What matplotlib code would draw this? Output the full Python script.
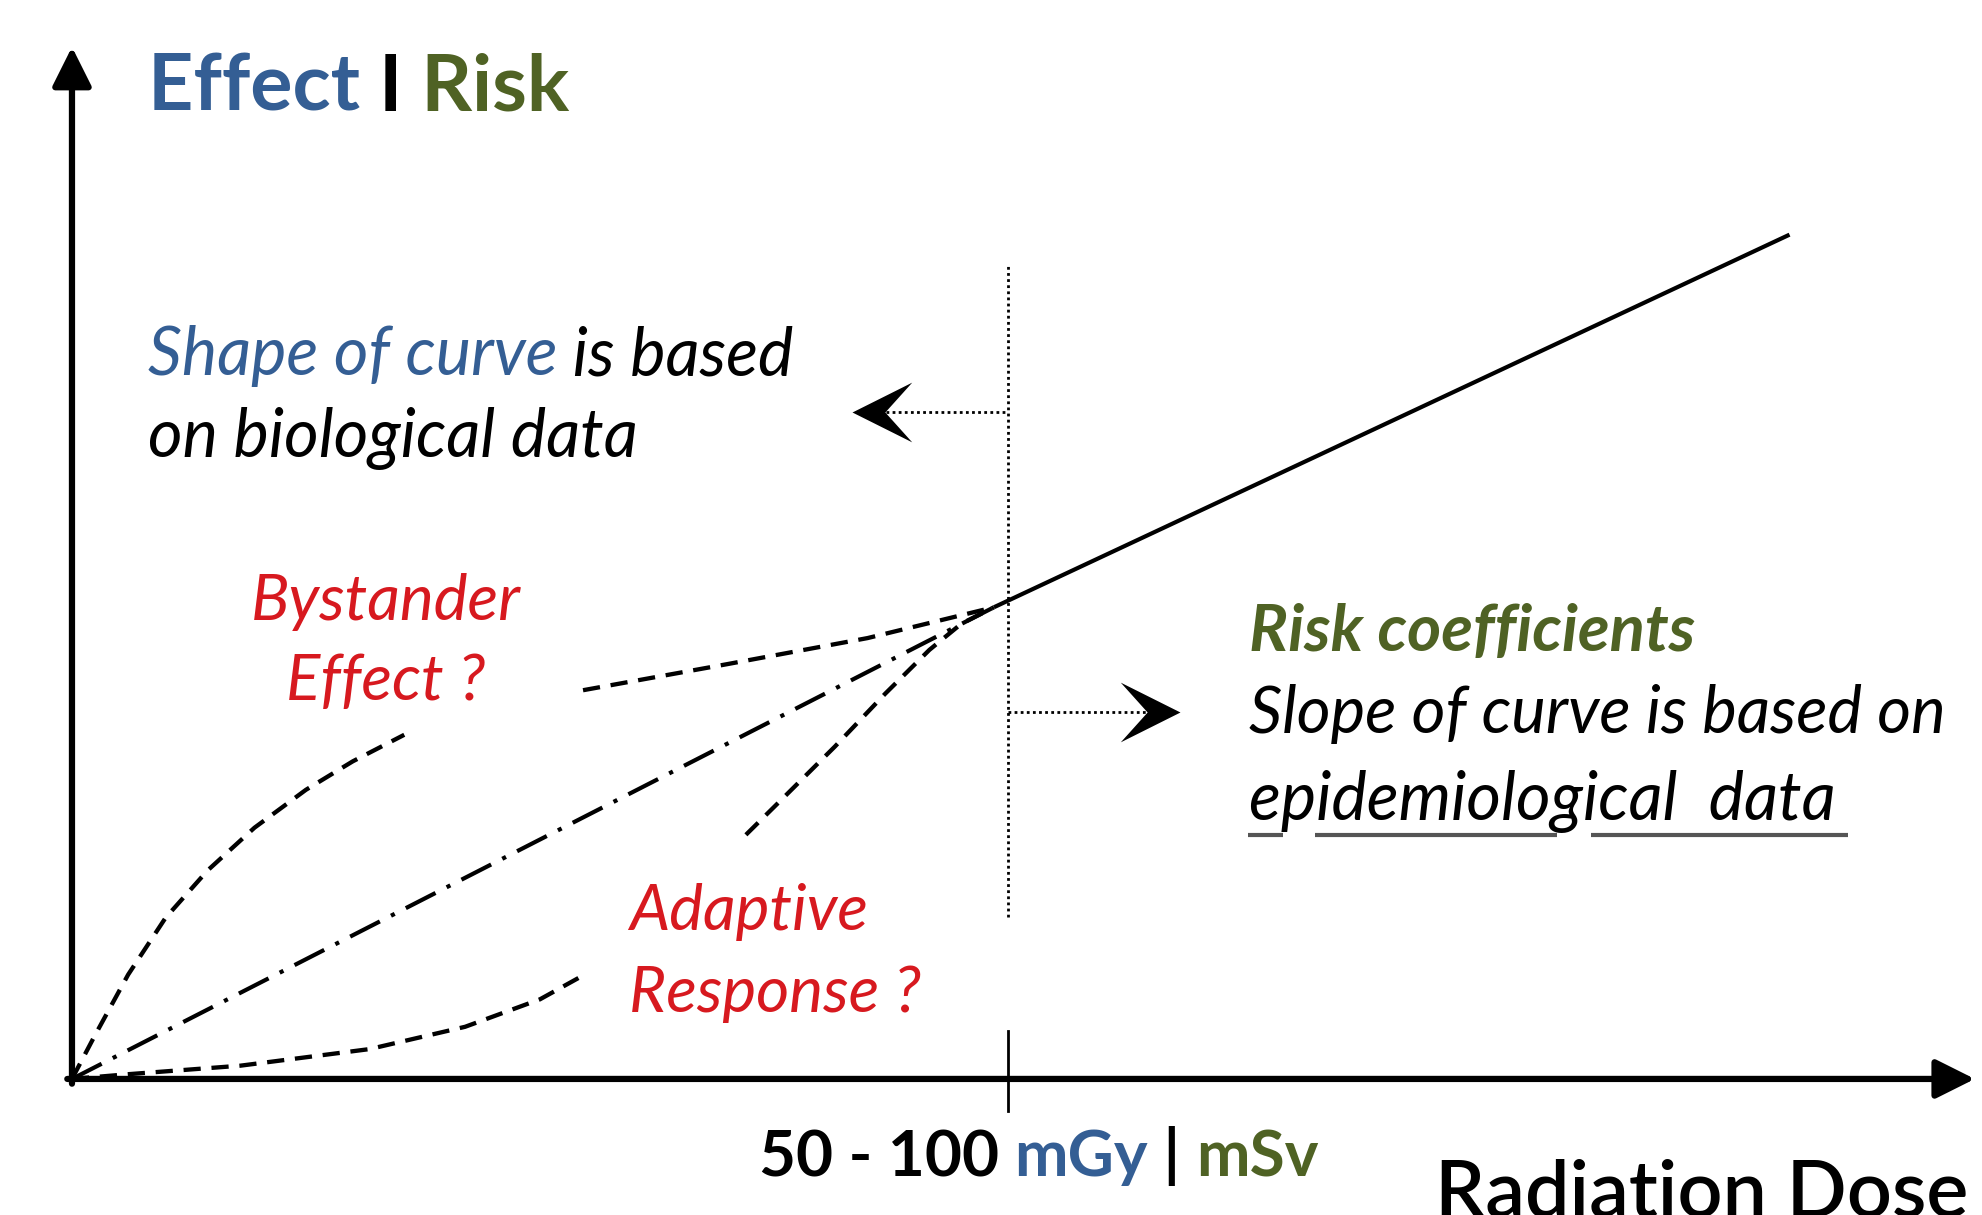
import matplotlib
matplotlib.use("Agg")
import matplotlib.pyplot as plt
from matplotlib.path import Path

plt.rcParams['font.family'] = ['Lato', 'DejaVu Sans']

BLUE = '#345E94'
GREEN = '#4F6224'
RED = '#D7191F'

# dose in units of the 50-100 mGy threshold, effect in units of effect at threshold
threshold = 1.0
bystander_low_x = [0.0, 0.024, 0.060, 0.100, 0.145, 0.195, 0.250, 0.300, 0.355]
bystander_low_y = [0.0, 0.090, 0.220, 0.340, 0.440, 0.530, 0.610, 0.670, 0.726]
bystander_high_x = [0.546, 0.70, 0.85, 0.985]
bystander_high_y = [0.820, 0.875, 0.930, 0.995]
adaptive_low_x = [0.0, 0.06, 0.18, 0.318, 0.42, 0.50, 0.543]
adaptive_low_y = [0.0, 0.010, 0.028, 0.063, 0.110, 0.168, 0.215]
adaptive_high_x = [0.72, 0.761, 0.815, 0.869, 0.916, 0.95, 0.985]
adaptive_high_y = [0.515, 0.595, 0.701, 0.813, 0.905, 0.960, 0.995]
lnt_x = [0.0, 0.985]
lnt_y = [0.0, 0.995]
known_x = [0.985, 1.835]
known_y = [0.995, 1.781]

fig = plt.figure(figsize=(19.83, 12.15), dpi=100)
ax = fig.add_axes([0, 0, 1, 1])
ax.set_xlim(-0.0769, 2.0417)
ax.set_ylim(-0.287, 2.276)
ax.axis('off')

# axes with arrow heads
arrow = dict(arrowstyle='-|>', lw=4.5, color='black', mutation_scale=60,
             shrinkA=0, shrinkB=0)
ax.annotate('', xy=(0, 2.177), xytext=(0, -0.01), arrowprops=arrow)
ax.annotate('', xy=(2.033, 0), xytext=(-0.005, 0), arrowprops=arrow)
ax.plot([threshold, threshold], [-0.067, 0.101], color='black', lw=2)

# curves
dash = (0, (4, 2.5))
ax.plot(bystander_low_x, bystander_low_y, color='black', lw=3.1, ls=dash)
ax.plot(bystander_high_x, bystander_high_y, color='black', lw=3.1, ls=dash)
ax.plot(adaptive_low_x, adaptive_low_y, color='black', lw=3.1, ls=dash)
ax.plot(adaptive_high_x, adaptive_high_y, color='black', lw=3.1, ls=dash)
ax.plot(lnt_x, lnt_y, color='black', lw=3.0, ls=(0, (8, 3, 1, 3)))
ax.plot(known_x, known_y, color='black', lw=3.0, solid_capstyle='butt')

# dotted threshold line and arrows
dots = (0, (1, 1.2))
ax.plot([threshold, threshold], [0.341, 1.715], color='black', lw=2.0, ls=dots)
left_head = Path([(0, 0), (1, 0.5), (0.55, 0), (1, -0.5), (0, 0)],
                 [Path.MOVETO, Path.LINETO, Path.LINETO, Path.LINETO, Path.CLOSEPOLY])
right_head = Path([(0, 0), (-1, 0.5), (-0.55, 0), (-1, -0.5), (0, 0)],
                  [Path.MOVETO, Path.LINETO, Path.LINETO, Path.LINETO, Path.CLOSEPOLY])
ax.plot([0.87, threshold], [1.406, 1.406], color='black', lw=2.0, ls=dots)
ax.plot([0.833], [1.406], marker=left_head, ms=86, color='black', mew=0)
ax.plot([threshold, 1.15], [0.775, 0.775], color='black', lw=2.0, ls=dots)
ax.plot([1.184], [0.775], marker=right_head, ms=86, color='black', mew=0)


def colored_line(x, y, parts, size, **kw):
    t = ax.text(x, y, parts[0][0], color=parts[0][1], fontsize=size, va='baseline', **kw)
    for s, c in parts[1:]:
        t = ax.annotate(s, xy=(1, 0), xycoords=t, va='bottom', color=c,
                        fontsize=size, **kw)
    return t


colored_line(0.081, 2.042, [('Effect ', BLUE), ('I', 'black'), (' Risk', GREEN)],
             57, fontweight='bold')

colored_line(0.081, 1.484, [('Shape of curve', BLUE), (' is based', 'black')],
             48, fontstyle='italic')
ax.text(0.081, 1.311, 'on biological data', fontsize=48, fontstyle='italic',
        va='baseline', color='black')

ax.text(0.335, 0.969, 'Bystander', fontsize=46, fontstyle='italic', color=RED,
        ha='center', va='baseline')
ax.text(0.335, 0.80, 'Effect ?', fontsize=46, fontstyle='italic', color=RED,
        ha='center', va='baseline')
ax.text(0.595, 0.315, 'Adaptive', fontsize=46, fontstyle='italic', color=RED,
        va='baseline')
ax.text(0.595, 0.142, 'Response ?', fontsize=46, fontstyle='italic', color=RED,
        va='baseline')

ax.text(1.258, 0.903, 'Risk coefficients', fontsize=47, fontstyle='italic',
        fontweight='bold', color=GREEN, va='baseline')
ax.text(1.258, 0.729, 'Slope of curve is based on', fontsize=47, fontstyle='italic',
        color='black', va='baseline')
ax.text(1.258, 0.547, 'epidemiological  data', fontsize=48, fontstyle='italic',
        color='black', va='baseline')
# broken underline below "epidemiological  data"
for x0, x1 in [(1.256, 1.294), (1.328, 1.587), (1.623, 1.897)]:
    ax.plot([x0, x1], [0.515, 0.515], color='#555555', lw=3, solid_capstyle='butt')

colored_line(0.734, -0.205, [('50 - 100 ', 'black'), ('mGy', BLUE), (' | ', 'black'),
                             ('mSv', GREEN)], 46, fontweight='bold')

ax.text(1.456, -0.29, 'Radiation Dose', fontsize=57, fontweight='semibold',
        color='black', va='baseline')

fig.savefig('out.png', dpi=100)
